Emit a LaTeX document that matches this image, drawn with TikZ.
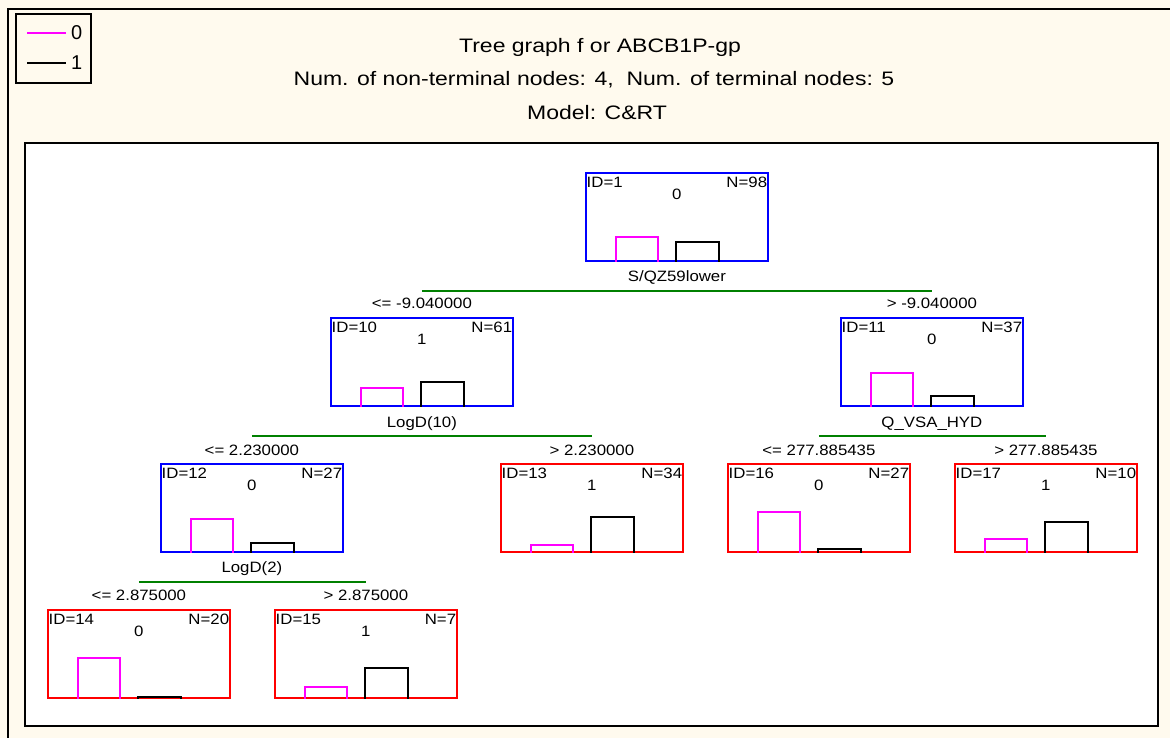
\documentclass[tikz,border=0pt]{standalone}
\usepackage{fontspec}
\setmainfont{Liberation Sans}
\newfontfamily\nf[FakeStretch=1.12]{Liberation Sans}
\newfontfamily\tf[FakeStretch=1.18]{Liberation Sans}
\usetikzlibrary{calc}
\definecolor{cream}{RGB}{255,250,238}
\definecolor{mag}{RGB}{255,0,255}
\definecolor{gr}{RGB}{0,128,0}
\tikzset{
  frame/.style={draw=black,line width=2.2pt},
  tbox/.style={draw,line width=1.8pt,minimum width=182pt,minimum height=88pt,inner sep=0pt,fill=white},
  inner/.style={tbox,draw=blue},
  leaf/.style={tbox,draw=red},
  txt/.style={font=\nf\fontsize{15}{17}\selectfont,inner sep=0pt},
  ttl/.style={font=\tf\fontsize{19.5}{22}\selectfont,inner sep=0pt},
  leg/.style={font=\fontsize{20}{22}\selectfont,inner sep=0pt},
  barm/.style={draw=mag,line width=1.8pt},
  bark/.style={draw=black,line width=1.8pt},
  split/.style={draw=gr,line width=1.8pt},
}
% #1 name, #2 left x, #3 top y, #4 style, #5 ID, #6 N, #7 class, #8 magenta h, #9 black h
\newcommand\tnode[9]{%
  \node[#4,anchor=north west] (#1) at (#2,#3) {};
  \node[txt,anchor=west] (#1id) at ($(#1.north west)+(1.5,10)$) {ID=#5};
  \node[txt,anchor=east] (#1n) at ($(#1.north east)+(-1.5,10)$) {N=#6};
  \node[txt] (#1c) at ($(#1.north)+(0,22)$) {#7};
  \draw[barm] ($(#1.south west)+(31,0)$) |- ($(#1.south west)+(73,-#8)$) -- ($(#1.south west)+(73,0)$);
  \draw[bark] ($(#1.south west)+(91,0)$) |- ($(#1.south west)+(134,-#9)$) -- ($(#1.south west)+(134,0)$);
}
\begin{document}
\begin{tikzpicture}[x=1pt,y=-1pt]
\useasboundingbox (0,0) rectangle (1170,738);
\fill[cream] (0,0) rectangle (1170,738);
\draw[frame] (8,745) -- (8,9) -- (1175,9);
% legend
\node[draw=black,line width=2pt,fill=cream,anchor=north west,minimum width=75pt,minimum height=69pt,inner sep=0pt] (legend) at (15,13) {};
\coordinate (lm1) at (27,33);
\coordinate (lm2) at (66,33);
\draw[draw=mag,line width=2pt] (lm1) -- (lm2);
\node[leg,anchor=west] (l0) at (71,33) {0};
\coordinate (lk1) at (27,63);
\coordinate (lk2) at (66,63);
\draw[draw=black,line width=2pt] (lk1) -- (lk2);
\node[leg,anchor=west] (l1) at (71,63) {1};
% titles
\node[ttl] (t1) at (600,47) {Tree graph f or ABCB1P-gp};
\node[ttl] (t2) at (594,80) {Num. of non-terminal nodes: 4,\ \ Num. of terminal nodes: 5};
\node[ttl] (t3) at (597,113) {Model: C\&RT};
% inner frame
\draw[frame,fill=white] (25,143) rectangle (1158,726);
% nodes
\tnode{n1}{585}{172}{inner}{1}{98}{0}{25}{20}
\tnode{n10}{330}{317}{inner}{10}{61}{1}{19}{25}
\tnode{n11}{840}{317}{inner}{11}{37}{0}{34}{11}
\tnode{n12}{160}{463}{inner}{12}{27}{0}{34}{10}
\tnode{n13}{500}{463}{leaf}{13}{34}{1}{8}{36}
\tnode{n16}{727}{463}{leaf}{16}{27}{0}{41}{4}
\tnode{n17}{954}{463}{leaf}{17}{10}{1}{14}{31}
\tnode{n14}{47}{609}{leaf}{14}{20}{0}{41}{2}
\tnode{n15}{274}{609}{leaf}{15}{7}{1}{12}{31}
% split variable labels
\node[txt] (s1) at ($(n1.south)+(0,16)$) {S/QZ59lower};
\node[txt] (s10) at ($(n10.south)+(0,17)$) {LogD(10)};
\node[txt] (s11) at ($(n11.south)+(0,17)$) {Q\_VSA\_HYD};
\node[txt] (s12) at ($(n12.south)+(0,16)$) {LogD(2)};
% split lines
\coordinate (g1) at ($(n1.south)+(0,29)$);
\coordinate (g10) at ($(n10.south)+(0,29)$);
\coordinate (g11) at ($(n11.south)+(0,29)$);
\coordinate (g12) at ($(n12.south)+(0,29)$);
\draw[split] (n10.north |- g1) -- (n11.north |- g1);
\draw[split] (n12.north |- g10) -- (n13.north |- g10);
\draw[split] (n16.north |- g11) -- (n17.north |- g11);
\draw[split] (n14.north |- g12) -- (n15.north |- g12);
% condition labels
\node[txt] (c10) at ($(n10.north)+(0,-14)$) {<= -9.040000};
\node[txt] (c11) at ($(n11.north)+(0,-14)$) {> -9.040000};
\node[txt] (c12) at ($(n12.north)+(0,-13)$) {<= 2.230000};
\node[txt] (c13) at ($(n13.north)+(0,-13)$) {> 2.230000};
\node[txt] (c16) at ($(n16.north)+(0,-13)$) {<= 277.885435};
\node[txt] (c17) at ($(n17.north)+(0,-13)$) {> 277.885435};
\node[txt] (c14) at ($(n14.north)+(0,-14)$) {<= 2.875000};
\node[txt] (c15) at ($(n15.north)+(0,-14)$) {> 2.875000};
\end{tikzpicture}
\end{document}
